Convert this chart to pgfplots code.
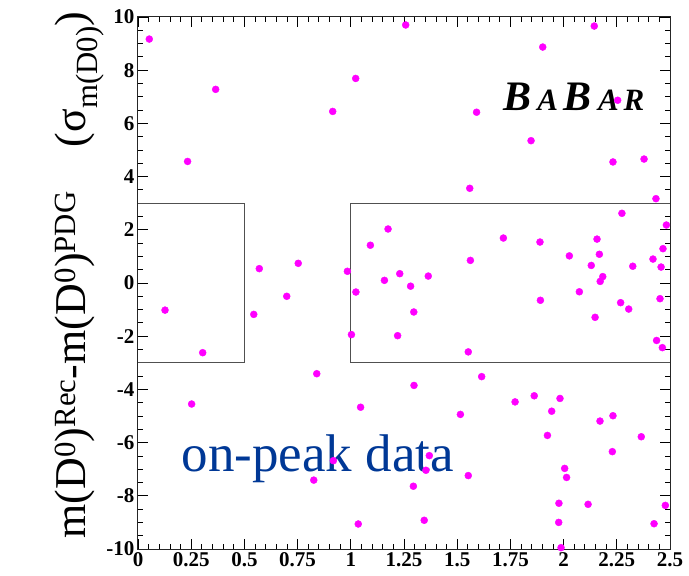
\documentclass[border=0pt]{standalone}
\usepackage{pgfplots}
\pgfplotsset{compat=1.18}
\usepackage{fontspec}
\setmainfont{Liberation Serif}
\definecolor{peakblue}{RGB}{0,56,150}
\definecolor{boxgray}{RGB}{80,80,80}
\definecolor{dotmag}{RGB}{255,0,255}

\pgfplotstableread{
x y
0.053 9.17
0.233 4.57
0.365 7.28
0.915 6.45
1.023 7.69
0.570 0.54
0.753 0.74
0.984 0.44
1.092 1.42
1.175 2.03
1.258 9.70
2.144 9.66
1.902 8.87
1.591 6.42
2.254 6.87
1.847 5.35
2.232 4.55
2.378 4.66
1.559 3.56
2.434 3.17
2.274 2.62
2.483 2.18
1.717 1.69
1.889 1.54
2.157 1.65
2.467 1.29
2.027 1.02
2.168 1.08
1.562 0.85
2.130 0.66
2.325 0.63
2.420 0.90
2.458 0.60
1.230 0.35
1.364 0.26
2.184 0.24
1.158 0.10
0.127 -1.02
0.304 -2.62
0.252 -4.55
0.544 -1.18
0.699 -0.50
1.024 -0.34
1.003 -1.94
0.840 -3.41
1.046 -4.67
0.826 -7.41
0.918 -6.68
1.035 -9.06
1.281 -0.12
1.296 -1.09
1.220 -1.98
1.552 -2.59
1.891 -0.65
2.074 -0.33
2.172 0.06
2.148 -1.29
2.268 -0.74
2.306 -0.98
2.453 -0.59
2.437 -2.16
2.464 -2.43
1.615 -3.52
1.297 -3.85
1.862 -4.24
1.772 -4.47
1.983 -4.34
1.944 -4.82
1.515 -4.94
2.232 -4.99
2.171 -5.19
1.924 -5.73
2.365 -5.78
2.229 -6.34
1.369 -6.49
1.353 -7.04
2.005 -6.97
2.014 -7.31
1.552 -7.24
1.294 -7.64
1.978 -8.28
2.115 -8.32
2.478 -8.36
1.977 -9.00
2.425 -9.05
1.345 -8.92
1.988 -9.95
}\peakdata

\begin{document}
\begin{tikzpicture}
\begin{axis}[
  width=532pt, height=532pt, scale only axis,
  xmin=0, xmax=2.5, ymin=-10, ymax=10,
  xtick={0,0.25,0.5,0.75,1,1.25,1.5,1.75,2,2.25,2.5},
  xticklabels={\textbf{0},\textbf{0.25},\textbf{0.5},\textbf{0.75},\textbf{1},\textbf{1.25},
               \textbf{1.5},\textbf{1.75},\textbf{2},\textbf{2.25},\textbf{2.5}},
  ytick={-10,-8,-6,-4,-2,0,2,4,6,8,10},
  yticklabels={\textbf{-10},\textbf{-8},\textbf{-6},\textbf{-4},\textbf{-2},\textbf{0},
               \textbf{2},\textbf{4},\textbf{6},\textbf{8},\textbf{10}},
  minor x tick num=4, minor y tick num=3,
  xtick pos=both, ytick pos=both,
  xticklabel pos=lower, yticklabel pos=left,
  tick align=inside,
  major tick length=10pt, minor tick length=5pt,
  tick style={black, line width=0.8pt},
  axis line style={black!85, line width=1pt},
  ticklabel style={font=\fontsize{21}{21}\selectfont\bfseries},
  clip=false,
]
  % signal boxes
  \addplot[boxgray, line width=0.9pt] coordinates {(0,3)(0.5,3)(0.5,-3)(0,-3)};
  \addplot[boxgray, line width=0.9pt] coordinates {(2.5,3)(1,3)(1,-3)(2.5,-3)};

  \addplot[only marks, mark=*, mark size=3.5pt, color=dotmag,
           mark options={draw=dotmag, fill=dotmag}] table {\peakdata};

  \node[anchor=base west, text=peakblue, font=\fontsize{53}{53}\selectfont]
    at (axis cs:0.188,-7.1) {on-peak data};

  \node[anchor=base west, font=\bfseries\itshape] at (axis cs:1.70,6.5)
    {\fontsize{42}{42}\selectfont B\kern6pt{\fontsize{31}{31}\selectfont A}\kern6pt
     B\kern6pt{\fontsize{31}{31}\selectfont A\kern5pt R}};

  \node[anchor=base, rotate=90, font=\fontsize{44}{44}\selectfont]
    at (axis cs:-0.249,0.3)
    {m(D\textsuperscript{0})\textsuperscript{Rec}-m(D\textsuperscript{0})\textsuperscript{PDG}\quad(σ\textsubscript{m(D0)})};

  \coordinate (sw) at (rel axis cs:0,0);
  \coordinate (ne) at (rel axis cs:1,1);
\end{axis}
\pgfresetboundingbox
\path[use as bounding box] ([shift={(-138pt,-26pt)}]sw) rectangle ([shift={(19pt,17pt)}]ne);
\end{tikzpicture}
\end{document}
